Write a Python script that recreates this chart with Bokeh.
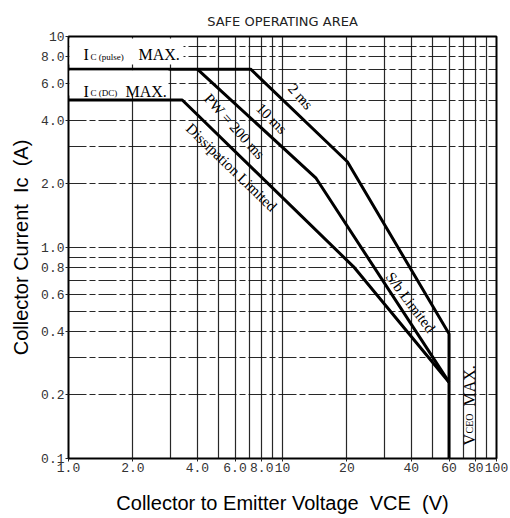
import math
from bokeh.plotting import figure
from bokeh.models import FixedTicker, Label, BoxAnnotation, Range1d
from bokeh.embed import file_html
from bokeh.resources import INLINE

# ---------------- data ----------------
# DC operation / dissipation limited
dc_v = [1.0, 3.4, 21.5, 60.0]
dc_i = [5.0, 5.0, 0.81, 0.23]
# 10 ms pulse
ms10_v = [4.0, 14.3, 60.0]
ms10_i = [7.0, 2.14, 0.23]
# 2 ms pulse (incl. Ic pulse max and VCEO max boundary)
ms2_v = [1.0, 7.1, 20.1, 60.0, 60.0]
ms2_i = [7.0, 7.0, 2.55, 0.39, 0.1]

x_ticks = [1, 2, 4, 6, 8, 10, 20, 40, 60, 80, 100]
x_tick_labels = ["1.0", "2.0", "4.0", "6.0", "8.0", "10", "20", "40", "60", "80", "100"]
y_ticks = [0.1, 0.2, 0.4, 0.6, 0.8, 1, 2, 4, 6, 8, 10]
y_tick_labels = ["0.1", "0.2", "0.4", "0.6", "0.8", "1.0", "2.0", "4.0", "6.0", "8.0", "10"]
x_grid = [1, 2, 3, 4, 5, 6, 7, 8, 9, 10, 20, 30, 40, 50, 60, 70, 80, 90, 100]
y_grid = [0.1, 0.2, 0.3, 0.4, 0.5, 0.6, 0.7, 0.8, 0.9, 1, 2, 3, 4, 5, 6, 7, 8, 9, 10]

NB = "\u00a0"
title_text = "SAFE OPERATING AREA"
x_label = f"Collector to Emitter Voltage{NB}{NB}VCE{NB}{NB}(V)"
y_label = f"Collector Current{NB}{NB}Ic{NB}{NB}(A)"

# ---------------- figure ----------------
p = figure(width=508, height=516, x_axis_type="log", y_axis_type="log",
           x_range=Range1d(1, 100), y_range=Range1d(0.1, 10),
           output_backend="svg", toolbar_location=None,
           min_border_left=68, min_border_right=12,
           min_border_top=36, min_border_bottom=56)
p.background_fill_color = "white"
p.border_fill_color = "white"
p.outline_line_color = "black"
p.outline_line_width = 2
p.outline_line_alpha = 1.0

p.title.text = title_text
p.title.align = "center"
p.title.text_font = "DejaVu Sans"
p.title.text_font_size = "13px"
p.title.text_font_style = "normal"
p.title.text_color = "#222"
p.title.standoff = 15

p.xaxis.ticker = FixedTicker(ticks=x_ticks)
p.yaxis.ticker = FixedTicker(ticks=y_ticks)
p.xaxis.major_label_overrides = {v: s for v, s in zip(x_ticks, x_tick_labels)}
p.yaxis.major_label_overrides = {v: s for v, s in zip(y_ticks, y_tick_labels)}
for ax in (p.xaxis, p.yaxis):
    ax.axis_line_color = None
    ax.minor_tick_line_color = None
    ax.major_tick_in = 0
    ax.major_tick_out = 3
    ax.major_tick_line_color = "#222"
    ax.major_label_text_font = "Liberation Mono"
    ax.major_label_text_font_size = "13px"
    ax.major_label_text_color = "#333"
    ax.major_label_standoff = 1
    ax.axis_label_text_font = "Liberation Sans"
    ax.axis_label_text_font_size = "20px"
    ax.axis_label_text_font_style = "normal"
    ax.axis_label_text_color = "black"
p.xaxis.axis_label = x_label
p.yaxis.axis_label = y_label
p.xaxis.axis_label_standoff = 17
p.yaxis.axis_label_standoff = 6

p.xgrid.ticker = FixedTicker(ticks=x_grid)
p.ygrid.ticker = FixedTicker(ticks=y_grid)
p.xgrid.grid_line_color = "#111"
p.xgrid.grid_line_width = 1.2
p.xgrid.grid_line_alpha = 0.9
p.ygrid.grid_line_color = "#111"
p.ygrid.grid_line_width = 1.2
p.ygrid.grid_line_alpha = 0.9
p.ygrid.grid_line_dash = "18 3 6 3"

# ---------------- curves ----------------
p.line(dc_v, dc_i, line_color="black", line_width=3)
p.line(ms10_v, ms10_i, line_color="black", line_width=3)
p.line(ms2_v, ms2_i, line_color="black", line_width=3)

# ---------------- white boxes behind Ic max labels ----------------
for l, r, b, t in [(1, 115, 394, 420), (1, 100, 363, 388)]:
    p.add_layout(BoxAnnotation(left=l, right=r, bottom=b, top=t,
                               left_units="screen", right_units="screen",
                               bottom_units="screen", top_units="screen",
                               fill_color="white", fill_alpha=1.0,
                               line_color=None))

def lab(text, x, y, size, font="Liberation Serif", angle=0.0, align="left",
        baseline="alphabetic", color="black"):
    p.add_layout(Label(x=x, y=y, x_units="screen", y_units="screen", text=text,
                       text_font=font, text_font_size=f"{size}px",
                       text_color=color, angle=angle, text_align=align,
                       text_baseline=baseline))

# Ic max labels
lab("I", 15, 404, 16)
lab("C (pulse)", 22, 402, 9)
lab("MAX.", 70, 404, 16)
lab("I", 15, 367, 16)
lab("C (DC)", 22, 366, 9)
lab("MAX.", 57, 367, 16)

# rotated curve labels
deg = math.pi / 180
lab("2 ms", 232, 362, 15, angle=-48 * deg, align="center", baseline="middle")
lab("10 ms", 203, 340, 15, angle=-45 * deg, align="center", baseline="middle")
lab("PW = 200 ms", 166, 332, 15, angle=-48 * deg, align="center", baseline="middle")
lab("Dissipation Limited", 163, 291, 15, angle=-44 * deg, align="center", baseline="middle")
lab("S/b Limited", 342, 156, 15, angle=-53 * deg, align="center", baseline="middle")

# VCEO MAX (vertical)
lab("V", 401, 13, 16, angle=90 * deg)
lab("CEO", 401, 25, 10, angle=90 * deg)
lab("MAX.", 401, 52, 16, angle=90 * deg)

open("out.html", "w").write(file_html(p, INLINE))
